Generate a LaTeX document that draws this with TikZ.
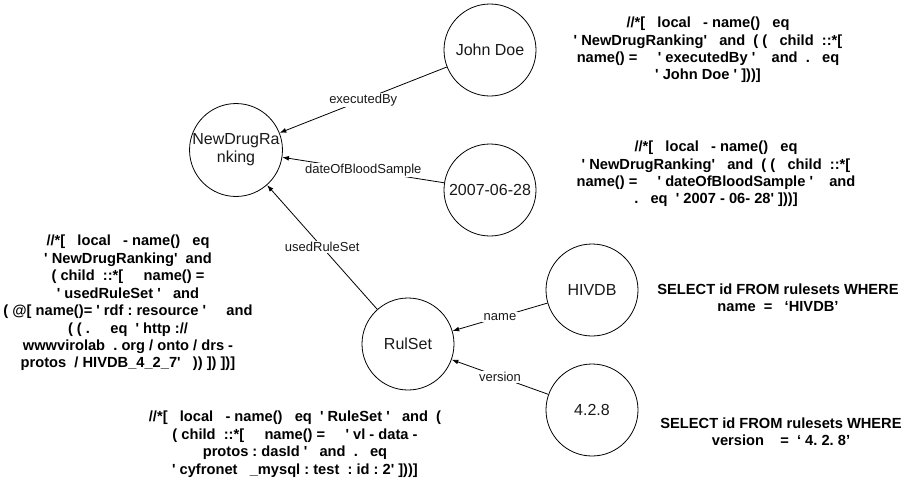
\documentclass[tikz,border=0pt]{standalone}
\usepackage{fontspec}
\setmainfont{Liberation Sans}
\usepackage{tikz}
\usetikzlibrary{arrows.meta}
\tikzset{
  entity/.style={
    draw, circle, line width=0.6pt,
    minimum size=69pt, inner sep=0pt,
    align=center, text=black!90,
    font=\fontsize{12}{13.5}\selectfont
  },
  query/.style={
    align=center, inner sep=0pt,
    font=\fontsize{11}{13.1}\selectfont\bfseries
  },
  rel/.style={fill=white, inner sep=1pt, text=black!90, font=\fontsize{9.75}{11}\selectfont},
  every edge/.style={draw, line width=0.6pt, -{Latex[length=5pt,width=3.6pt]}},
}
\newcommand{\apos}{\textquotesingle}

\begin{document}
\begin{tikzpicture}[x=0.75pt,y=-0.75pt]
\useasboundingbox (0,0) rectangle (909,483);

% graph
\node[entity] (ndr) at (236,150) {NewDrugRa\\nking};
\node[entity] (doe) at (490,50) {John Doe};
\node[entity] (date) at (490,190) {2007-06-28};
\node[entity] (ruleset) at (408,344) {RulSet};
\node[entity] (hivdb) at (592,290) {HIVDB};
\node[entity] (ver) at (592,410) {4.2.8};

\draw (doe) edge node[rel] {executedBy} (ndr);
\draw (date) edge node[rel] {dateOfBloodSample} (ndr);
\draw (ruleset) edge node[rel] {usedRuleSet} (ndr);
\draw (hivdb) edge node[rel] {name} (ruleset);
\draw (ver) edge node[rel] {version} (ruleset);

% queries
\node[query] (qdoe) at (708,50) {//*[~~~local~~~-~name()~~~eq\\
\apos~NewDrugRanking\apos~~~and~~(~(~~~child~~::*[\\
name()~=~~~~~\apos~executedBy~\apos~~~~and~~.~~~eq\\
\apos~John~Doe~\apos~]))]};

\node[query] (qdate) at (716,174) {//*[~~~local~~~-~name()~~~eq\\
\apos~NewDrugRanking\apos~~~and~~(~(~~~child~~::*[\\
name()~=~~~~~\apos~dateOfBloodSample~\apos~~~~and\\
.~~~eq~~\apos~2007~-~06-~28\apos~]))]};

\node[query] (qruleset) at (128,303) {//*[~~~local~~~-~name()~~~eq\\
\apos~NewDrugRanking\apos~~and\\
(~child~~::*[~~~~~name()~=\\
\apos~usedRuleSet~\apos~~~and\\
(~@[~name()=~\apos~rdf~:~resource~\apos~~~~~and\\
(~(~.~~~~~eq~~\apos~http~://\\
wwwvirolab~~.~org~/~onto~/~drs~-\\
protos~~/~HIVDB\_4\_2\_7\apos~~~))~])~])]};

\node[query] (qrs) at (295,444) {//*[~~~local~~~-~name()~~~eq~~\apos~RuleSet~\apos~~~and~~(\\
(~child~~::*[~~~~~name()~=~~~~~\apos~vl~-~data~-\\
protos~:~dasId~\apos~~~and~~.~~~eq\\
\apos~cyfronet~~~\_mysql~:~test~~:~id~:~2\apos~]))]};

\node[query] (qhivdb) at (778,298) {SELECT id FROM rulesets WHERE\\
name~~=~~~`HIVDB'};

\node[query] (qver) at (781,432) {SELECT id FROM rulesets WHERE\\
version~~~~=~~`~4.~2.~8'};

\end{tikzpicture}
\end{document}
